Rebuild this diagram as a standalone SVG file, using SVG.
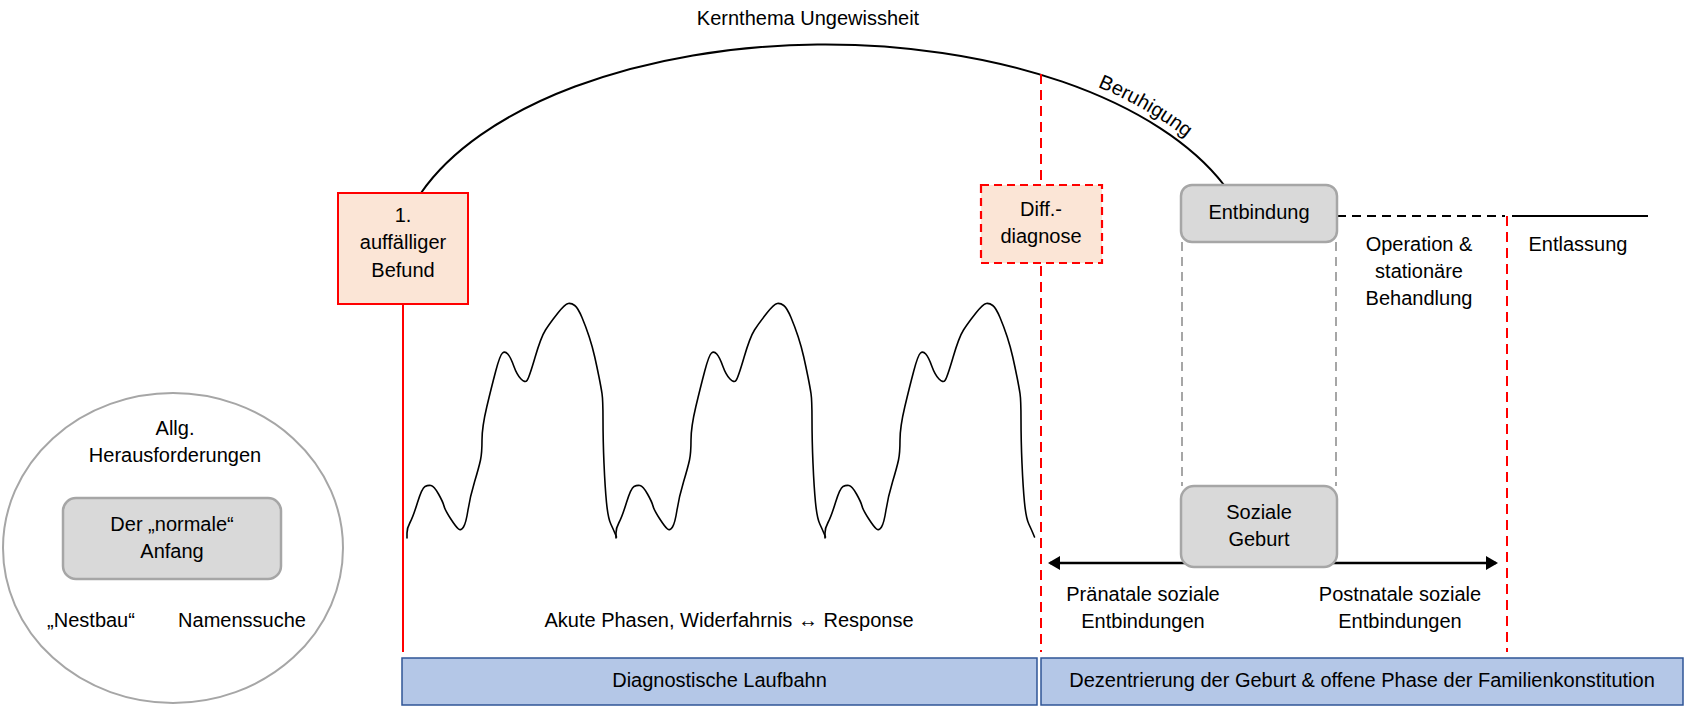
<svg xmlns="http://www.w3.org/2000/svg" xmlns:xlink="http://www.w3.org/1999/xlink" width="1685" height="709" viewBox="0 0 1685 709">
<style>
text{font-family:"Liberation Sans",Arial,sans-serif;font-size:20px;fill:#000;text-anchor:middle}
.redbox{fill:#fbe5d6;stroke:#ff0000;stroke-width:2}
.redbox-d{fill:#fbe5d6;stroke:#ff0000;stroke-width:2.2;stroke-dasharray:8 5}
.grey{fill:#d9d9d9;stroke:#a6a6a6;stroke-width:2.5}
.bar{fill:#b4c7e7;stroke:#2f5597;stroke-width:1.5}
.red-d{stroke:#ff0000;stroke-width:2;stroke-dasharray:10 6;fill:none}
.red-s{stroke:#ff0000;stroke-width:2;fill:none}
.grey-d{stroke:#a6a6a6;stroke-width:2;stroke-dasharray:9 6;fill:none}
.blk{stroke:#000;stroke-width:2;fill:none}
.wave{stroke:#000;stroke-width:1.6;fill:none;stroke-linejoin:round;stroke-linecap:round}
</style>
<defs>
<marker id="ah" markerUnits="userSpaceOnUse" markerWidth="14" markerHeight="14" refX="10" refY="7" orient="auto-start-reverse">
<path d="M0,0 L12,7 L0,14 z" fill="#000"/>
</marker>
<path id="period" d="M0,538 L0,533 Q0,528 3,522.5 Q6,517 10.5,502.5 Q15,488 18,486.5 Q21,485 24,485.5 Q27,486 31.5,494 Q36,502 37,506 Q38,510 43.5,518.5 Q49,527 51.5,529 Q54,531 56.5,527 Q59,523 61,510 Q63,497 67.5,482 Q72,467 73.5,460 Q75,453 75,440 Q75,427 79.75,407 Q84.5,387 88.75,371 Q93,355 95.5,353 Q98,351 100.75,354 Q103.5,357 106.75,366 Q110,375 114,379 Q118,383 120,380.5 Q122,378 128,357.5 Q134,337 138.5,330 Q143,323 150.5,313.5 Q158,304 161.25,303.5 Q164.5,303 167.75,305.5 Q171,308 175,317.5 Q179,327 182.25,337 Q185.5,347 187.75,357 Q190,367 192,377 Q194,387 195,393.5 Q196,400 196,420 Q196,440 197,463.5 Q198,487 199.5,502.5 Q201,518 203.8,524 Q206.6,530 208.05,533.5 L209.5,537"/>
<path id="beruhigungPath" d="M382.5,270 A440,235 0 0 1 1262.5,270"/>
</defs>
<rect width="1685" height="709" fill="#fff"/>

<text x="808" y="25">Kernthema Ungewissheit</text>
<text font-size="20"><textPath xlink:href="#beruhigungPath" href="#beruhigungPath" startOffset="875">Beruhigung</textPath></text>

<g id="connectors">
<path class="blk" d="M421,193 A430,225 0 0 1 1224,185"/>
<line class="red-s" x1="403" y1="304" x2="403" y2="652"/>
<line class="red-d" x1="1041" y1="74" x2="1041" y2="652"/>
<line class="red-d" x1="1507" y1="216" x2="1507" y2="652"/>
<line class="grey-d" x1="1182" y1="242" x2="1182" y2="486"/>
<line class="grey-d" x1="1336" y1="242" x2="1336" y2="486"/>
<line class="blk" x1="1337" y1="216" x2="1505" y2="216" stroke-dasharray="9 6"/>
<line class="blk" x1="1512" y1="216" x2="1648" y2="216"/>
<line x1="1050" y1="563" x2="1496" y2="563" stroke="#000" stroke-width="2.5" marker-start="url(#ah)" marker-end="url(#ah)"/>
</g>

<g id="wave" class="wave">
<use href="#period" xlink:href="#period" x="407"/>
<use href="#period" xlink:href="#period" x="616"/>
<use href="#period" xlink:href="#period" x="825"/>
</g>

<g id="node-befund">
<rect class="redbox" x="338" y="193" width="130" height="111"/>
<text x="403" y="222">1.</text>
<text x="403" y="249">auffälliger</text>
<text x="403" y="277">Befund</text>
</g>

<g id="node-diff">
<rect class="redbox-d" x="981" y="185" width="121" height="78"/>
<text x="1041" y="216">Diff.-</text>
<text x="1041" y="243">diagnose</text>
</g>

<g id="node-entbindung">
<rect class="grey" x="1181" y="185" width="156" height="57" rx="11"/>
<text x="1259" y="219">Entbindung</text>
</g>

<g id="node-soziale">
<rect class="grey" x="1181" y="486" width="156" height="81" rx="13"/>
<text x="1259" y="519">Soziale</text>
<text x="1259" y="546">Geburt</text>
</g>

<g id="label-operation">
<text x="1419" y="251">Operation &amp;</text>
<text x="1419" y="278">stationäre</text>
<text x="1419" y="305">Behandlung</text>
</g>
<g id="label-entlassung">
<text x="1578" y="251">Entlassung</text>
</g>
<g id="label-praenatal">
<text x="1143" y="601">Pränatale soziale</text>
<text x="1143" y="628">Entbindungen</text>
</g>
<g id="label-postnatal">
<text x="1400" y="601">Postnatale soziale</text>
<text x="1400" y="628">Entbindungen</text>
</g>
<g id="label-akute">
<text x="729" y="627">Akute Phasen, Widerfahrnis ↔ Response</text>
</g>

<g id="node-circle">
<ellipse cx="173" cy="548" rx="170" ry="155" fill="#fff" stroke="#a6a6a6" stroke-width="2"/>
<text x="175" y="435">Allg.</text>
<text x="175" y="462">Herausforderungen</text>
<g id="node-normal">
<rect class="grey" x="63" y="498" width="218" height="81" rx="13"/>
<text x="172" y="531">Der „normale“</text>
<text x="172" y="558">Anfang</text>
</g>
<text x="91" y="627">„Nestbau“</text>
<text x="242" y="627">Namenssuche</text>
</g>

<g id="node-laufbahn">
<rect class="bar" x="402" y="658" width="635" height="47"/>
<text x="719.5" y="687">Diagnostische Laufbahn</text>
</g>
<g id="node-dezentrierung">
<rect class="bar" x="1041" y="658" width="642" height="47"/>
<text x="1362" y="687">Dezentrierung der Geburt &amp; offene Phase der Familienkonstitution</text>
</g>
</svg>
